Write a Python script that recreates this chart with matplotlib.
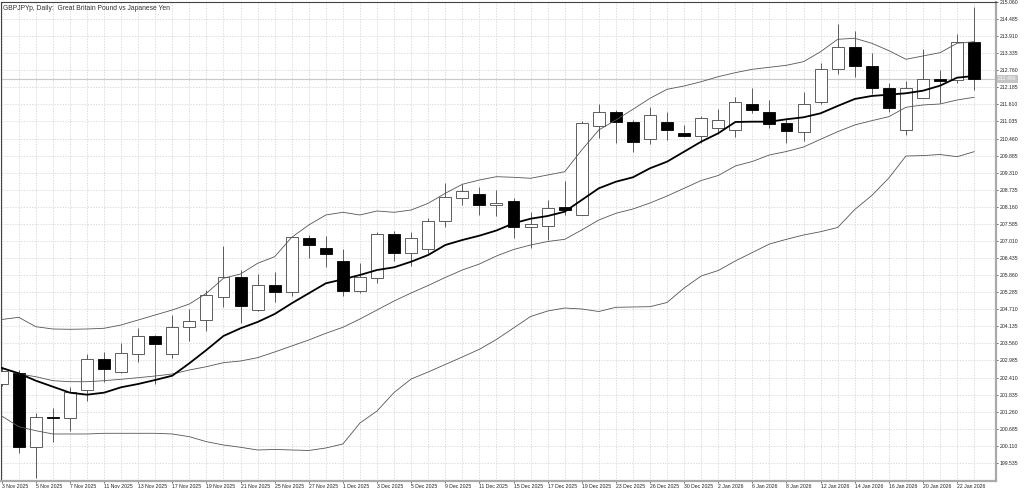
import matplotlib
matplotlib.use('Agg')
import matplotlib.pyplot as plt
import numpy as np
import pandas as pd

# trading days shown on the chart
dates = pd.to_datetime([
    '2025-11-03', '2025-11-04', '2025-11-05', '2025-11-06', '2025-11-07',
    '2025-11-10', '2025-11-11', '2025-11-12', '2025-11-13', '2025-11-14',
    '2025-11-17', '2025-11-18', '2025-11-19', '2025-11-20', '2025-11-21',
    '2025-11-24', '2025-11-25', '2025-11-26', '2025-11-27', '2025-11-28',
    '2025-12-01', '2025-12-02', '2025-12-03', '2025-12-04', '2025-12-05',
    '2025-12-08', '2025-12-09', '2025-12-10', '2025-12-11', '2025-12-12',
    '2025-12-15', '2025-12-16', '2025-12-17', '2025-12-18', '2025-12-19',
    '2025-12-22', '2025-12-23', '2025-12-24', '2025-12-26', '2025-12-29',
    '2025-12-30', '2025-12-31', '2026-01-02', '2026-01-05', '2026-01-06',
    '2026-01-07', '2026-01-08', '2026-01-09', '2026-01-12', '2026-01-13',
    '2026-01-14', '2026-01-15', '2026-01-16', '2026-01-19', '2026-01-20',
    '2026-01-21', '2026-01-22', '2026-01-23'])

opens = [202.193, 202.573, 200.061, 201.065, 201.038, 201.981, 203.045, 202.607, 203.193, 203.810,
         203.193, 204.103, 204.348, 205.113, 205.807, 204.685, 205.517, 205.302, 207.120, 206.773,
         206.336, 205.335, 205.753, 207.235, 206.595, 206.730, 207.696, 208.447, 208.582, 208.212,
         208.366, 207.470, 207.514, 208.164, 207.885, 210.893, 211.365, 211.028, 210.445, 211.008,
         210.658, 210.557, 210.799, 210.749, 211.624, 211.365, 210.974, 210.671, 211.702, 212.803,
         213.534, 212.904, 212.153, 210.749, 211.836, 212.456, 212.433, 213.722]
highs = [202.732, 202.664, 201.226, 201.374, 202.102, 203.203, 203.281, 203.564, 204.069, 203.844,
         204.517, 204.709, 205.359, 206.851, 206.032, 205.898, 205.975, 207.144, 207.211, 207.178,
         206.750, 206.258, 207.322, 207.346, 207.322, 207.777, 208.952, 208.919, 208.818, 208.727,
         208.447, 207.996, 208.390, 209.040, 211.052, 211.624, 211.422, 211.085, 211.533, 211.365,
         210.917, 211.220, 211.446, 211.870, 212.153, 211.759, 211.143, 212.039, 213.015, 214.309,
         214.093, 213.332, 212.321, 212.399, 213.467, 212.769, 213.982, 214.881]
lows = [202.126, 199.869, 199.017, 200.250, 200.610, 201.630, 202.270, 202.553, 202.924, 202.193,
        203.079, 203.631, 203.978, 204.776, 204.258, 204.668, 204.965, 205.167, 206.426, 206.123,
        205.157, 205.248, 205.584, 206.336, 206.167, 206.595, 207.470, 208.222, 207.885, 207.851,
        207.100, 206.763, 207.043, 207.885, 207.868, 210.469, 210.301, 210.018, 210.267, 210.412,
        210.496, 210.301, 210.614, 210.513, 211.311, 210.799, 210.321, 210.388, 211.624, 212.635,
        212.544, 211.961, 211.365, 210.580, 211.826, 211.648, 212.321, 212.096]
closes = [202.631, 200.061, 201.071, 201.038, 201.934, 203.045, 202.688, 203.227, 203.810, 203.530,
          204.123, 204.315, 205.180, 205.807, 204.820, 205.517, 205.302, 207.134, 206.864, 206.581,
          205.335, 205.807, 207.235, 206.605, 207.100, 207.696, 208.501, 208.683, 208.222, 208.279,
          207.470, 207.582, 208.110, 208.053, 210.974, 211.365, 211.008, 210.355, 211.254, 210.749,
          210.557, 211.163, 211.085, 211.682, 211.422, 210.951, 210.715, 211.614, 212.813, 213.534,
          212.904, 212.153, 211.479, 212.153, 212.466, 212.409, 213.722, 212.466]

# moving average (thick black)
ma = [202.732, 202.553, 202.304, 202.102, 201.900, 201.833, 201.900, 202.082, 202.193, 202.328,
      202.472, 202.890, 203.338, 203.810, 204.069, 204.281, 204.550, 204.911, 205.248, 205.584,
      205.719, 205.864, 206.032, 206.123, 206.312, 206.538, 206.874, 207.043, 207.188, 207.363,
      207.605, 207.760, 207.851, 207.996, 208.390, 208.784, 209.006, 209.155, 209.459, 209.681,
      210.018, 210.355, 210.637, 211.018, 211.028, 211.028, 211.109, 211.176, 211.311, 211.557,
      211.793, 211.894, 211.938, 211.985, 212.072, 212.241, 212.510, 212.567]
# bollinger bands
bb_mid = [202.749, 202.530, 202.439, 202.304, 202.270, 202.270, 202.304, 202.351, 202.405, 202.462,
          202.530, 202.664, 202.776, 202.910, 202.967, 203.079, 203.271, 203.473, 203.675, 203.900,
          204.103, 204.382, 204.685, 204.988, 205.258, 205.511, 205.780, 206.032, 206.234, 206.504,
          206.723, 206.874, 206.992, 207.066, 207.380, 207.717, 207.942, 208.087, 208.289, 208.525,
          208.784, 209.047, 209.215, 209.536, 209.688, 209.907, 210.024, 210.176, 210.435, 210.691,
          210.917, 211.062, 211.197, 211.513, 211.591, 211.624, 211.759, 211.850]
bb_up = [204.365, 204.439, 204.123, 204.045, 204.035, 204.045, 204.069, 204.180, 204.348, 204.517,
         204.685, 204.887, 205.248, 205.753, 205.898, 206.258, 206.480, 207.134, 207.548, 207.885,
         207.976, 207.885, 208.020, 207.976, 208.053, 208.279, 208.616, 208.919, 209.064, 209.175,
         209.155, 209.121, 209.232, 209.343, 210.075, 210.749, 211.085, 211.446, 211.816, 212.119,
         212.230, 212.375, 212.544, 212.679, 212.793, 212.860, 212.928, 213.049, 213.386, 213.803,
         213.837, 213.669, 213.420, 213.130, 213.241, 213.352, 213.669, 213.722]
bb_low = [201.115, 200.755, 200.620, 200.509, 200.509, 200.509, 200.532, 200.532, 200.532, 200.532,
          200.509, 200.418, 200.250, 200.138, 200.061, 199.970, 199.987, 199.970, 199.953, 200.037,
          200.172, 200.879, 201.283, 201.907, 202.361, 202.597, 202.850, 203.102, 203.362, 203.692,
          204.079, 204.466, 204.651, 204.752, 204.719, 204.634, 204.776, 204.786, 204.796, 204.938,
          205.426, 205.830, 206.015, 206.336, 206.622, 206.908, 207.066, 207.211, 207.322, 207.464,
          208.070, 208.542, 209.131, 209.872, 209.886, 209.923, 209.849, 210.018]

last_price = 212.466
ytick_vals = [199.535 + 0.575 * k for k in range(28)]

o = np.array(opens)
c = np.array(closes)
h = np.array(highs)
l = np.array(lows)
x = np.arange(len(dates))
up = c >= o

plt.rcParams['font.family'] = ['Liberation Sans', 'DejaVu Sans']

fig = plt.figure(figsize=(10.24, 4.92), dpi=100)
ax = fig.add_axes([1 / 1024, 1 - 480.5 / 492, 995 / 1024, 479 / 492])

# grid
ax.set_axisbelow(True)
ax.grid(which='both', color='#cfcfcf', linestyle=(0, (2, 2)), linewidth=0.5)

# current price line
ax.axhline(last_price, color='#c8c8c8', linewidth=0.8, zorder=1)

# wicks + bodies
ax.vlines(x, l, h, color='#444444', linewidth=0.6, zorder=2)
body_h = np.maximum(np.abs(c - o), 0.02)
body_b = np.minimum(o, c)
ax.bar(x[up], body_h[up], bottom=body_b[up], width=0.7, color='white',
       edgecolor='#444444', linewidth=0.6, zorder=3)
ax.bar(x[~up], body_h[~up], bottom=body_b[~up], width=0.7, color='black',
       edgecolor='black', linewidth=0.6, zorder=3)

# indicators
for band in (bb_up, bb_low, bb_mid):
    ax.plot(x, band, color='#555555', linewidth=0.6, zorder=4)
ax.plot(x, ma, color='black', linewidth=1.3, zorder=5)

ax.set_xlim(-0.04, 58.28)
ax.set_ylim(198.942, 215.076)

# axes styling
ax.yaxis.tick_right()
ax.set_yticks(ytick_vals)
ax.set_yticklabels([f'{v:.3f}' for v in ytick_vals])
ax.set_xticks(x[::2])
ax.set_xticks(x, minor=True)
ax.set_xticklabels([f'{d.day} {d.strftime("%b %Y")}' for d in dates[::2]], ha='left')
ax.tick_params(axis='both', which='major', labelsize=3.7, length=1.6, width=0.5,
               color='#333333', labelcolor='#222222', pad=0.8)
ax.tick_params(axis='x', which='minor', length=0)

for side in ['top', 'left']:
    ax.spines[side].set_color('#444444')
    ax.spines[side].set_linewidth(0.8)
for side in ['right', 'bottom']:
    ax.spines[side].set_color('#aaaaaa')
    ax.spines[side].set_linewidth(1.6)

# current price tag
ax.annotate(f'{last_price:.3f}', xy=(1, last_price), xycoords=('axes fraction', 'data'),
            xytext=(1.6, 0), textcoords='offset points', ha='left', va='center',
            fontsize=3.7, color='white',
            bbox=dict(boxstyle='square,pad=0.25', fc='#c4c4c4', ec='none'))

ax.text(0.002, 0.992, 'GBPJPYp, Daily:  Great Britain Pound vs Japanese Yen',
        transform=ax.transAxes, ha='left', va='top', fontsize=4.9, color='#333333')

fig.savefig('out.png', dpi=100)
